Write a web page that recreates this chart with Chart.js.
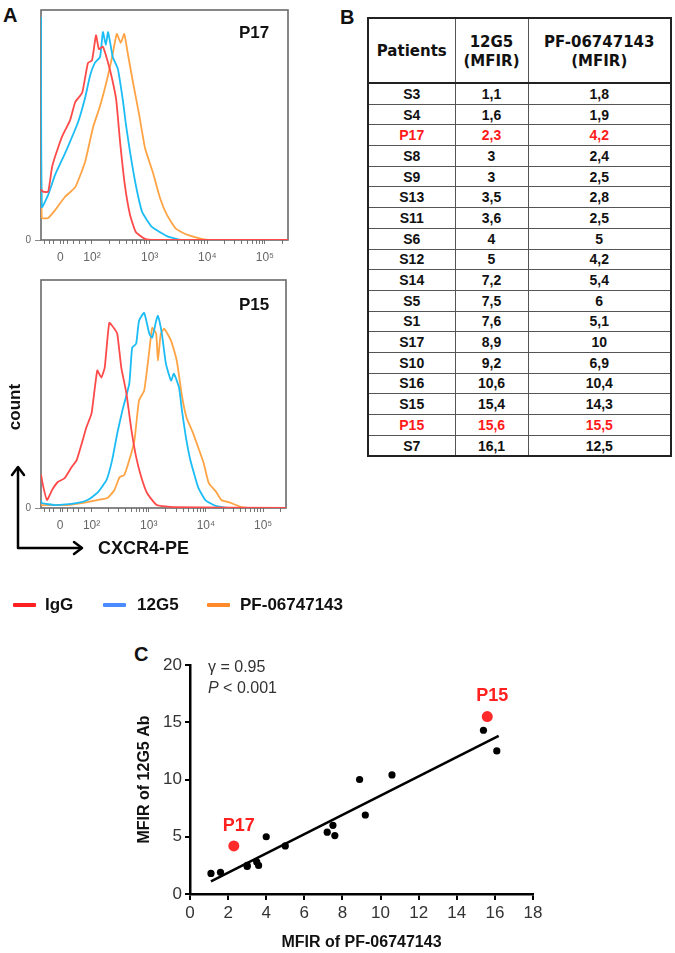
<!DOCTYPE html>
<html><head><meta charset="utf-8">
<script src="https://cdn.jsdelivr.net/npm/chart.js@4.4.1/dist/chart.umd.min.js"></script>
<style>
html,body{margin:0;padding:0;background:#fff;}
body{width:675px;height:953px;position:relative;overflow:hidden;font-family:"Liberation Sans",Arial,sans-serif;color:#111;}
.abs{position:absolute;white-space:nowrap;}
canvas{position:absolute;}
.panel{font-weight:bold;font-size:20px;line-height:20px;}
.hlab{font-weight:bold;font-size:17px;line-height:20px;}
#tbl{position:absolute;left:367px;top:17px;border-collapse:collapse;table-layout:fixed;border:2px solid #222;}
#tbl td,#tbl th{padding:0;text-align:center;border:1px solid #555;font-family:"Liberation Sans",Arial,sans-serif;font-weight:bold;font-size:14px;color:#111;height:19.7px;line-height:14px;}
#tbl th{font-family:"DejaVu Sans",Verdana,sans-serif;font-size:15px;line-height:19px;height:61px;border-bottom:2px solid #222;padding-top:2px;}
#tbl td.red{color:#ff1a1a;}
.leg{position:absolute;top:595px;font-weight:bold;font-size:17px;line-height:20px;}
.legline{position:absolute;top:603px;height:4px;width:23px;border-radius:1px;}
</style></head><body>

<div class="abs panel" style="left:3px;top:5px;">A</div>
<div class="abs panel" style="left:340px;top:7px;">B</div>
<div class="abs panel" style="left:134px;top:644px;">C</div>

<canvas id="h1" width="300" height="270" style="left:0;top:0;"></canvas>
<canvas id="h2" width="300" height="270" style="left:0;top:270px;"></canvas>
<div class="abs hlab" style="left:239px;top:23px;">P17</div>
<div class="abs hlab" style="left:239px;top:295px;">P15</div>
<div class="abs hlab" style="left:-10px;top:397px;transform:rotate(-90deg);width:50px;text-align:center;">count</div>
<div class="abs" style="left:98px;top:537px;font-weight:bold;font-size:18px;line-height:22px;">CXCR4-PE</div>
<svg class="abs" style="left:0;top:450px;" width="100" height="110">
  <g stroke="#000" stroke-width="2.5" fill="none" stroke-linecap="round" stroke-linejoin="round">
    <polyline points="18,18 18,98 81,98"/>
    <polyline points="12,25 18,17 24,25"/>
    <polyline points="74,92 82,98 74,104"/>
  </g>
</svg>

<div class="legline" style="left:13px;background:#ff2020;"></div>
<div class="leg" style="left:45px;">IgG</div>
<div class="legline" style="left:103px;background:#4a8cff;"></div>
<div class="leg" style="left:137px;">12G5</div>
<div class="legline" style="left:207px;background:#ff8a2a;"></div>
<div class="leg" style="left:240px;">PF-06747143</div>

<table id="tbl"></table>

<canvas id="sc" width="440" height="323" style="left:120px;top:630px;"></canvas>
<div class="abs" style="left:208px;top:657px;font-size:16px;line-height:20px;color:#333;">γ = 0.95</div>
<div class="abs" style="left:208px;top:678px;font-size:16px;line-height:20px;color:#333;"><i>P</i> &lt; 0.001</div>

<script>
// ---------- Panel B / C data ----------
const patients = ['S3','S4','P17','S8','S9','S13','S11','S6','S12','S14','S5','S1','S17','S10','S16','S15','P15','S7'];
const mfir12G5 = [1.1,1.6,2.3,3,3,3.5,3.6,4,5,7.2,7.5,7.6,8.9,9.2,10.6,15.4,15.6,16.1];
const mfirPF   = [1.8,1.9,4.2,2.4,2.5,2.8,2.5,5,4.2,5.4,6,5.1,10,6.9,10.4,14.3,15.5,12.5];
const highlighted = ['P17','P15'];
const fitX = [1.1, 16.2];
const fitY = [1.1, 13.8];
const scXTicks = [0,2,4,6,8,10,12,14,16,18];
const scYTicks = [0,5,10,15,20];

// ---------- Panel A data (x in decade units: 2 = 10^2) ----------
const histTickPos = [1.45, 2, 3, 4, 5];
const histTickLabels = ['0','10²','10³','10⁴','10⁵'];
const histMinorLinear = [1.18,1.26,1.34,1.50,1.58,1.68,1.78,1.88];

const p17IgG_x  = [1.116,1.15,1.24,1.31,1.41,1.50,1.62,1.71,1.83,1.93,2.00,2.07,2.12,2.19,2.28,2.35,2.42,2.49,2.57,2.66,2.76,2.92,3.09,5.40];
const p17IgG_y  = [22,21,21,32,40,46,52,60,64,77,78,89,83,84,77,70,61,42,24,11,3.5,0.5,0,0];
const p17G5_x   = [1.116,1.13,1.24,1.36,1.48,1.58,1.76,1.88,1.97,2.05,2.14,2.19,2.24,2.28,2.36,2.45,2.54,2.59,2.66,2.76,2.87,3.04,3.30,3.56,5.40];
const p17G5_y   = [97,14.3,19.6,28.3,34.8,40.4,51.3,61.7,71.7,77,79.6,90.4,84.8,90.4,79.6,74.3,60,50,38.3,23.9,12.2,5.7,1.7,0,0];
const p17PF_x   = [1.116,1.13,1.24,1.36,1.53,1.71,1.88,2.02,2.14,2.26,2.35,2.43,2.50,2.56,2.62,2.71,2.82,2.92,3.06,3.18,3.30,3.46,3.66,3.92,4.13,5.40];
const p17PF_y   = [53.5,9.6,9.6,13,18.7,23,33.9,49.1,58.3,69.6,79.6,89.6,85.7,89.6,81.3,68.7,54.3,40,29.1,18.3,10.9,4.8,2.2,0.4,0,0];

const p15IgG_x  = [1.116,1.15,1.22,1.31,1.41,1.53,1.65,1.74,1.83,1.91,2.00,2.10,2.17,2.23,2.31,2.40,2.45,2.52,2.61,2.69,2.78,2.87,2.97,3.14,3.44,5.40];
const p15IgG_y  = [14.8,10,3.5,7.9,11.4,13.1,17.9,21,28.4,35.4,41.5,60.3,57.2,61.6,81.2,78.6,76.4,61.6,50.2,35.4,22.3,13.5,6.6,1.3,0.4,0];
const p15G5_x   = [1.116,1.13,1.36,1.76,1.93,2.10,2.26,2.36,2.45,2.54,2.66,2.71,2.78,2.83,2.92,3.01,3.06,3.13,3.16,3.23,3.30,3.39,3.44,3.53,3.58,3.65,3.72,3.79,3.87,3.99,4.17,4.39,5.40];
const p15G5_y   = [3.5,2.2,1.3,2.2,3.5,6.6,12.2,21,32.8,42.8,54.6,70.3,72.1,82.1,85.6,76.4,74.7,82.1,84.3,76.4,63.3,55.9,58.9,52.8,42.8,31,21.8,15.3,8.7,3.5,0.9,0,0];
const p15PF_x   = [1.116,1.13,1.58,1.93,2.10,2.28,2.40,2.49,2.57,2.66,2.75,2.83,2.92,3.01,3.06,3.13,3.16,3.21,3.27,3.39,3.49,3.58,3.66,3.77,3.87,3.96,4.05,4.17,4.27,4.44,4.62,4.79,5.40];
const p15PF_y   = [1.3,1.3,1.3,2.6,3.5,4.4,7.9,13.5,14.4,21,29.7,47.2,51.5,69,79,76.4,64.6,76.4,78.6,73.4,64.6,49.3,39.7,33.2,26.2,19.7,10.9,7.4,3.5,2.2,0.4,0,0];

const COL_IGG = '#ff4a4a', COL_G5 = '#1cbcf5', COL_PF = '#ffa445';

// ---------- Table ----------
(function(){
  const fmt = v => String(v).replace('.', ',');
  let h = '<colgroup><col style="width:87px"><col style="width:73px"><col style="width:143px"></colgroup>';
  h += '<tr><th>Patients</th><th>12G5<br>(MFIR)</th><th>PF-06747143<br>(MFIR)</th></tr>';
  patients.forEach((p,i)=>{
    const c = highlighted.includes(p) ? ' class="red"' : '';
    h += `<tr><td${c}>${p}</td><td${c}>${fmt(mfir12G5[i])}</td><td${c}>${fmt(mfirPF[i])}</td></tr>`;
  });
  document.getElementById('tbl').innerHTML = h;
})();

// ---------- Histograms ----------
const histTicks = (()=>{
  const t = [...histMinorLinear, histTickPos[0]];
  for (let n=2;n<=4;n++) for (let k=1;k<=9;k++) t.push(n+Math.log10(k));
  t.push(5);
  t.push(5+Math.log10(2));
  return t.filter(v=>v<=5.40).sort((a,b)=>a-b);
})();

const boxPlugin = {
  id:'box',
  beforeDatasetsDraw(chart){
    const {ctx, chartArea:a} = chart;
    ctx.save(); ctx.strokeStyle='#6a6a6a'; ctx.lineWidth=1.6;
    ctx.strokeRect(a.left, a.top, a.right-a.left, a.bottom-a.top);
    ctx.restore();
  }
};

function pts(xs, ys){ return xs.map((x,i)=>({x, y:ys[i]})); }

function hist(id, series, padTop, padRight, xH){
  new Chart(document.getElementById(id), {
    type:'line',
    data:{datasets: series.map(s=>({data: pts(s[0], s[1]), borderColor:s[2], borderWidth:1.8, pointRadius:0, tension:0.15, fill:false}))},
    options:{
      responsive:false, animation:false, devicePixelRatio:1,
      layout:{padding:{top:padTop, right:padRight, left:0, bottom:0}},
      plugins:{legend:{display:false}, tooltip:{enabled:false}},
      scales:{
        x:{type:'linear', min:1.116, max:5.40,
           afterFit:s=>{s.height=xH;},
           afterBuildTicks:s=>{s.ticks = histTicks.map(v=>({value:v}));},
           ticks:{autoSkip:false, maxRotation:0, padding:6, color:'#666', font:{size:12, family:'Liberation Sans'},
             callback:(v)=>{const i = histTickPos.findIndex(p=>Math.abs(p-v)<1e-9); return i>=0 ? histTickLabels[i] : '';}},
           grid:{drawOnChartArea:false, tickLength:4, color:'#777', lineWidth:1},
           border:{display:false}},
        y:{min:0, max:100,
           afterFit:s=>{s.width=41;},
           afterBuildTicks:s=>{s.ticks=[{value:0}];},
           ticks:{color:'#666', font:{size:10, family:'Liberation Sans'}, padding:4, callback:()=> '0'},
           grid:{drawOnChartArea:false, tickLength:6, color:'#888'},
           border:{display:false}}
      }
    },
    plugins:[boxPlugin]
  });
}

hist('h1', [[p17IgG_x,p17IgG_y,COL_IGG],[p17G5_x,p17G5_y,COL_G5],[p17PF_x,p17PF_y,COL_PF]], 10, 12, 30);
hist('h2', [[p15IgG_x,p15IgG_y,COL_IGG],[p15G5_x,p15G5_y,COL_G5],[p15PF_x,p15PF_y,COL_PF]], 9, 14, 32);

// ---------- Scatter ----------
const normalPts = [], hiPts = [];
patients.forEach((p,i)=>{
  const o = {x:mfir12G5[i], y:mfirPF[i], name:p};
  (highlighted.includes(p) ? hiPts : normalPts).push(o);
});

const labelPlugin = {
  id:'lbl',
  afterDatasetsDraw(chart){
    const meta = chart.getDatasetMeta(2);
    const {ctx} = chart;
    ctx.save();
    ctx.fillStyle='#ff2020'; ctx.font='bold 18px "Liberation Sans", Arial, sans-serif';
    ctx.textAlign='center'; ctx.textBaseline='middle';
    meta.data.forEach((el,i)=>{ ctx.fillText(hiPts[i].name, el.x+5, el.y-20); });
    ctx.restore();
  }
};

new Chart(document.getElementById('sc'), {
  type:'scatter',
  data:{datasets:[
    {type:'line', data: pts(fitX, fitY), borderColor:'#000', borderWidth:2.5, pointRadius:0, fill:false},
    {data: normalPts, backgroundColor:'#000', borderWidth:0, pointRadius:3.6},
    {data: hiPts, backgroundColor:'#ff2a2a', borderWidth:0, pointRadius:5.5}
  ]},
  options:{
    responsive:false, animation:false, devicePixelRatio:1,
    layout:{padding:{top:35, right:27, left:0, bottom:0}},
    plugins:{legend:{display:false}, tooltip:{enabled:false}},
    scales:{
      x:{type:'linear', min:0, max:18,
         afterFit:s=>{s.height=59;},
         afterBuildTicks:s=>{s.ticks = scXTicks.map(v=>({value:v}));},
         ticks:{autoSkip:false, maxRotation:0, padding:3, color:'#333', font:{size:17, family:'Liberation Sans'}},
         grid:{display:true, drawOnChartArea:false, tickLength:6, color:'#000', lineWidth:2},
         border:{display:true, color:'#000', width:2.5},
         title:{display:true, text:'MFIR of PF-06747143', color:'#111', font:{size:16, weight:'bold', family:'Liberation Sans'}, padding:{top:0, bottom:1}}},
      y:{min:0, max:20,
         afterFit:s=>{s.width=70;},
         afterBuildTicks:s=>{s.ticks = scYTicks.map(v=>({value:v}));},
         ticks:{padding:3, color:'#333', font:{size:17, family:'Liberation Sans'}},
         grid:{display:true, drawOnChartArea:false, tickLength:5, color:'#000', lineWidth:2},
         border:{display:true, color:'#000', width:2.5},
         title:{display:true, text:'MFIR of 12G5 Ab', color:'#111', font:{size:16, weight:'bold', family:'Liberation Sans'}, padding:{top:15, bottom:0}}}
    }
  },
  plugins:[labelPlugin]
});
</script>
</body></html>
